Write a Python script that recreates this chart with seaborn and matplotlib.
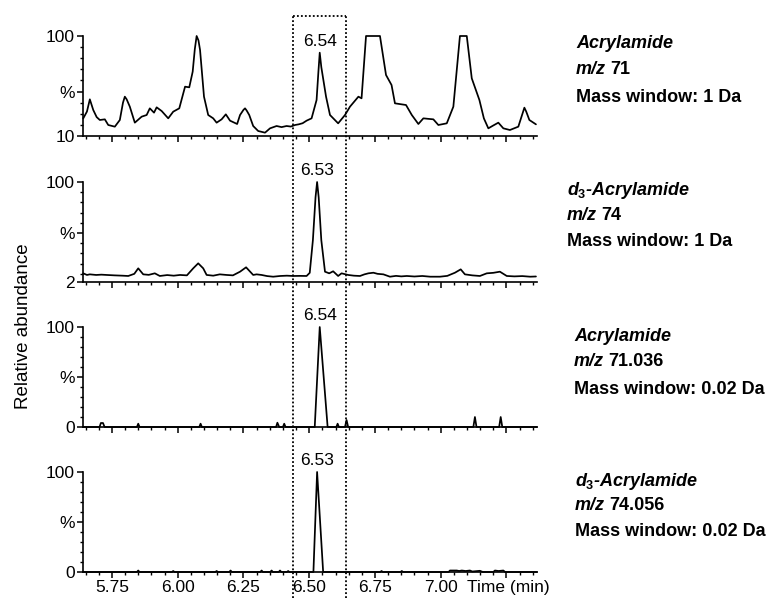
import matplotlib
matplotlib.use("Agg")
import matplotlib.pyplot as plt
import matplotlib.transforms as mtransforms
from matplotlib.lines import Line2D
from matplotlib.ticker import FixedLocator
import seaborn as sns

# ---------------- chromatogram data (retention time in min, relative abundance in %) ----------------
rt_ch1 = [5.641, 5.655, 5.666, 5.679, 5.692, 5.704, 5.723, 5.736, 5.761, 5.780, 5.792, 5.799, 5.806,
          5.818, 5.837, 5.863, 5.882, 5.894, 5.910, 5.920, 5.939, 5.964, 5.983, 6.006, 6.028, 6.044,
          6.057, 6.065, 6.072, 6.079, 6.085, 6.100, 6.116, 6.135, 6.148, 6.167, 6.183, 6.199, 6.226,
          6.237, 6.250, 6.256, 6.262, 6.272, 6.287, 6.306, 6.332, 6.351, 6.376, 6.395, 6.414, 6.430,
          6.446, 6.460, 6.475, 6.490, 6.509, 6.528, 6.535, 6.540, 6.546, 6.564, 6.579, 6.610, 6.636,
          6.655, 6.687, 6.699, 6.716, 6.769, 6.792, 6.813, 6.826, 6.868, 6.890, 6.915, 6.934, 6.950,
          6.972, 6.991, 7.023, 7.048, 7.073, 7.099, 7.118, 7.147, 7.164, 7.181, 7.200, 7.219, 7.238,
          7.263, 7.295, 7.312, 7.318, 7.325, 7.337, 7.362]
ab_ch1 = [25.9, 32.0, 43.0, 33.4, 27.0, 24.4, 25.0, 19.9, 18.4, 24.4, 40.0, 45.4, 43.0,
          36.4, 22.0, 27.4, 28.9, 34.9, 31.0, 35.8, 32.5, 25.9, 31.9, 34.9, 54.4, 53.8,
          67.9, 88.0, 100.0, 96.0, 87.4, 45.4, 28.9, 25.9, 22.0, 25.0, 29.5, 23.8, 20.8,
          28.9, 33.5, 34.9, 33.0, 28.9, 19.0, 14.5, 13.0, 16.9, 19.0, 18.0, 19.0, 18.5,
          19.9, 20.5, 21.5, 23.8, 25.9, 42.4, 68.0, 85.0, 72.0, 45.4, 28.9, 21.4, 28.9,
          36.4, 45.4, 43.9, 100.0, 100.0, 64.9, 55.9, 39.4, 37.9, 28.9, 20.8, 25.9, 25.5,
          25.0, 19.9, 21.4, 36.4, 100.0, 100.0, 61.9, 42.4, 25.9, 16.9, 19.5, 22.0, 16.9,
          15.4, 18.4, 31.0, 35.5, 32.0, 24.4, 20.5]

rt_ch2 = [5.641, 5.655, 5.666, 5.690, 5.710, 5.730, 5.760, 5.790, 5.812, 5.835, 5.850, 5.869, 5.890,
          5.913, 5.932, 5.960, 5.985, 6.009, 6.035, 6.059, 6.078, 6.097, 6.110, 6.135, 6.160, 6.186,
          6.210, 6.237, 6.260, 6.287, 6.300, 6.319, 6.340, 6.363, 6.390, 6.415, 6.439, 6.465, 6.490,
          6.502, 6.514, 6.524, 6.530, 6.536, 6.546, 6.560, 6.576, 6.591, 6.610, 6.623, 6.648, 6.670,
          6.693, 6.710, 6.725, 6.744, 6.760, 6.782, 6.807, 6.830, 6.850, 6.871, 6.900, 6.930, 6.960,
          6.997, 7.025, 7.054, 7.076, 7.092, 7.120, 7.149, 7.175, 7.200, 7.225, 7.251, 7.280, 7.310,
          7.340, 7.362]
ab_ch2 = [10.5, 8.9, 9.5, 8.9, 9.2, 8.9, 8.5, 8.2, 7.9, 10.0, 15.4, 9.5, 9.0,
          10.5, 7.9, 8.8, 8.2, 8.9, 8.5, 15.4, 20.3, 15.4, 8.9, 8.2, 9.5, 8.9,
          8.5, 12.1, 16.4, 8.9, 9.5, 8.9, 7.8, 7.2, 7.9, 8.2, 7.9, 8.0, 7.9,
          11.0, 43.0, 85.0, 100.0, 85.0, 43.0, 12.1, 10.5, 12.5, 7.9, 10.5, 8.9, 8.2,
          7.9, 9.5, 10.5, 11.1, 10.0, 9.5, 7.2, 8.0, 7.5, 7.9, 7.4, 7.9, 7.2,
          7.2, 8.0, 11.1, 14.4, 9.5, 8.5, 7.9, 10.5, 11.0, 12.1, 7.9, 7.5, 7.8,
          7.2, 7.4]

rt_ch3 = [5.640, 5.703, 5.708, 5.716, 5.722, 5.845, 5.850, 5.855, 6.082, 6.087, 6.092,
          6.374, 6.379, 6.386, 6.400, 6.405, 6.410, 6.521, 6.540, 6.570, 6.603, 6.608, 6.613,
          6.636, 6.642, 6.648, 7.124, 7.130, 7.136, 7.222, 7.228, 7.234, 7.366]
ab_ch3 = [0.0, 0.0, 4.0, 4.0, 0.0, 0.0, 3.3, 0.0, 0.0, 3.3, 0.0,
          0.0, 4.3, 0.0, 0.0, 3.3, 0.0, 0.0, 100.0, 0.0, 0.0, 3.3, 0.0,
          0.0, 7.0, 0.0, 0.0, 10.0, 0.0, 0.0, 10.0, 0.0, 0.0]

rt_ch4 = [5.640, 5.845, 5.850, 5.855, 5.978, 5.983, 5.988, 6.143, 6.148, 6.153, 6.196, 6.201, 6.206,
          6.314, 6.319, 6.324, 6.352, 6.357, 6.362, 6.384, 6.389, 6.394, 6.415, 6.420, 6.425,
          6.516, 6.530, 6.553, 6.770, 6.775, 6.780, 6.847, 6.852, 6.857, 7.030, 7.035, 7.045,
          7.061, 7.070, 7.080, 7.095, 7.111, 7.120, 7.149, 7.160, 7.200, 7.206, 7.220, 7.238,
          7.245, 7.366]
ab_ch4 = [0.0, 0.0, 1.5, 0.0, 0.0, 1.0, 0.0, 0.0, 1.0, 0.0, 0.0, 1.5, 0.0,
          0.0, 1.5, 0.0, 0.0, 1.5, 0.0, 0.0, 1.5, 0.0, 0.0, 1.0, 0.0,
          0.0, 100.0, 0.0, 0.0, 1.0, 0.0, 0.0, 1.0, 0.0, 0.0, 1.5, 1.5,
          1.5, 1.0, 1.5, 1.0, 1.5, 0.5, 1.2, 0.0, 0.0, 1.5, 1.0, 1.5,
          0.0, 0.0]

channels = [(rt_ch1, ab_ch1), (rt_ch2, ab_ch2), (rt_ch3, ab_ch3), (rt_ch4, ab_ch4)]
axis_floor = [10, 2, 0, 0]                 # lowest value shown on each y axis
apex_rt = [6.54, 6.53, 6.54, 6.53]          # labelled retention times
apex_ab = [85.0, 100.0, 100.0, 100.0]       # abundance at the labelled apex

compound = ["Acrylamide", r"$\mathit{d}_{\mathit{3}}$-Acrylamide", "Acrylamide", r"$\mathit{d}_{\mathit{3}}$-Acrylamide"]
mz_text = ["71", "74", "71.036", "74.056"]
window_text = ["1 Da", "1 Da", "0.02 Da", "0.02 Da"]

time_ticks = [5.75, 6.00, 6.25, 6.50, 6.75, 7.00, 7.25]
time_ticklabels = ["5.75", "6.00", "6.25", "6.50", "6.75", "7.00", ""]
integration_window = (6.44, 6.64)

# ---------------- styling ----------------
sns.set_theme(style="ticks")
plt.rcParams["font.family"] = ["Liberation Sans", "DejaVu Sans"]
plt.rcParams["mathtext.fontset"] = "custom"
plt.rcParams["mathtext.it"] = "Liberation Sans:bold:italic"
plt.rcParams["mathtext.rm"] = "Liberation Sans:bold"
plt.rcParams["mathtext.bf"] = "Liberation Sans:bold"
plt.rcParams["text.color"] = "black"
plt.rcParams["axes.edgecolor"] = "black"
plt.rcParams["xtick.color"] = "black"
plt.rcParams["ytick.color"] = "black"

W_PX, H_PX = 771, 601
fig = plt.figure(figsize=(W_PX / 100, H_PX / 100), dpi=100)
fig.patch.set_facecolor("white")

left_px, right_px = 83, 537
panel_tops = [36, 182, 327, 472]
panel_h = 100
label_rows = [(576, [42, 68, 95]), (567, [188, 213, 240]), (574, [335, 360, 387]), (575, [478, 504, 530])]

tick_fs = 12.5
label_fs = 13
axes_list = []
for i, ((rt, ab), floor) in enumerate(zip(channels, axis_floor)):
    top = panel_tops[i]
    ax = fig.add_axes([left_px / W_PX, 1 - (top + panel_h) / H_PX,
                       (right_px - left_px) / W_PX, panel_h / H_PX])
    ax.set_facecolor("white")
    sns.lineplot(x=rt, y=ab, ax=ax, color="black", linewidth=1.25,
                 estimator=None, clip_on=False)
    ax.set_xlim(5.64, 7.366)
    ax.set_ylim(floor, 100)
    ax.set_xlabel("")
    ax.set_ylabel("")
    for s in ("top", "right"):
        ax.spines[s].set_visible(False)
    for s in ("left", "bottom"):
        ax.spines[s].set_linewidth(1.2)
        ax.spines[s].set_color("black")

    ax.set_yticks([floor, 50, 100])
    ax.set_yticklabels([str(floor), "%", "100"])
    ax.yaxis.set_minor_locator(FixedLocator([v for v in range(10, 100, 10) if v != 50 and v > floor]))
    ax.set_xticks(time_ticks)
    ax.xaxis.set_minor_locator(FixedLocator([5.65 + 0.05 * k for k in range(35)]))
    if i == 3:
        ax.set_xticklabels(time_ticklabels)
    else:
        ax.set_xticklabels([])
    ax.tick_params(axis="both", which="major", direction="out", length=4, width=1.1,
                   labelsize=tick_fs, pad=2)
    ax.tick_params(axis="both", which="minor", direction="out", length=2.4, width=1.0)

    ax.annotate(f"{apex_rt[i]:.2f}", xy=(apex_rt[i], apex_ab[i]), xytext=(0, 3),
                textcoords="offset points", ha="center", va="bottom",
                fontsize=12.5, annotation_clip=False)

    # compound / ion / mass-window caption on the right
    x0, ys = label_rows[i]
    fig.text(x0 / W_PX, 1 - ys[0] / H_PX, compound[i], ha="left", va="center_baseline",
             fontsize=label_fs, fontweight="bold", style="italic")
    mz = fig.text(x0 / W_PX, 1 - ys[1] / H_PX, "m/z", ha="left", va="center_baseline",
                  fontsize=label_fs, fontweight="bold", style="italic")
    ax.annotate(mz_text[i], xy=(1, 0), xycoords=mz, xytext=(3, 0), textcoords="offset points",
                ha="left", va="bottom", fontsize=label_fs, fontweight="bold",
                annotation_clip=False)
    fig.text(x0 / W_PX, 1 - ys[2] / H_PX, "Mass window: " + window_text[i], ha="left",
             va="center_baseline", fontsize=label_fs, fontweight="bold")
    axes_list.append(ax)

bottom_ax = axes_list[-1]
bottom_ax.annotate("Time (min)", xy=(7.10, 0), xycoords=("data", "axes fraction"),
                   xytext=(0, -6), textcoords="offset points", ha="left", va="top",
                   fontsize=tick_fs, annotation_clip=False)

fig.text(24 / W_PX, 1 - 326 / H_PX, "Relative abundance", rotation=90,
         ha="center", va="center", fontsize=13.5)

# dotted integration window spanning every trace
blend = mtransforms.blended_transform_factory(bottom_ax.transData, fig.transFigure)
y_top, y_bot = 1 - 16 / H_PX, 1 - 598 / H_PX
dot = dict(color="black", linewidth=1.3, linestyle=(0, (1, 1.2)), transform=blend, clip_on=False)
fig.add_artist(Line2D([integration_window[0]] * 2, [y_bot, y_top], **dot))
fig.add_artist(Line2D([integration_window[1]] * 2, [y_bot, y_top], **dot))
fig.add_artist(Line2D(list(integration_window), [y_top, y_top], **dot))

fig.savefig("out.png", dpi=100, facecolor="white")
